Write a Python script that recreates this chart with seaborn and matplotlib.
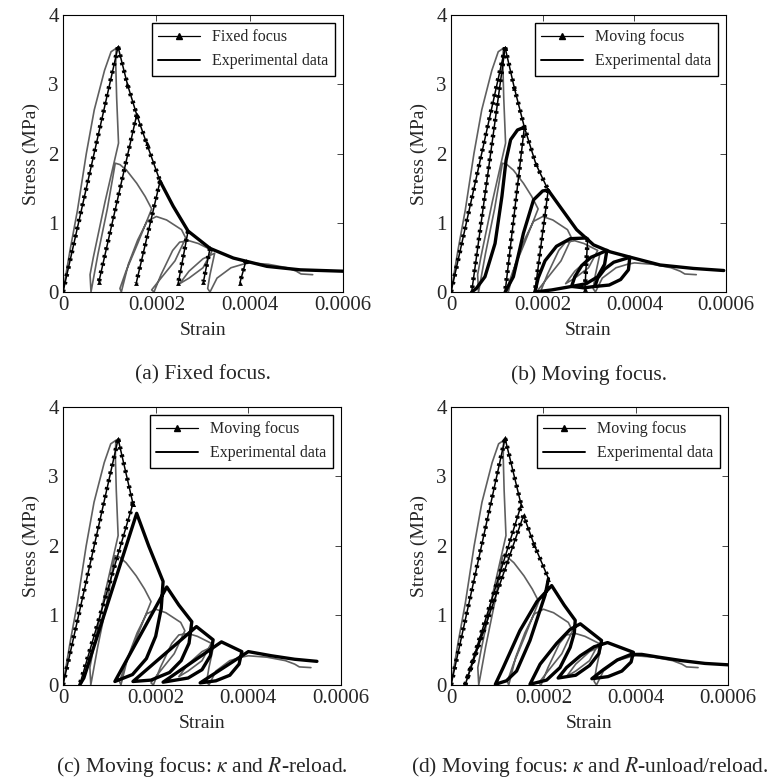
import matplotlib.pyplot as plt
from matplotlib.lines import Line2D
import seaborn as sns
import pandas as pd

sns.set_style('white')
plt.rcParams['font.family'] = ['Liberation Serif', 'DejaVu Serif']
plt.rcParams['mathtext.fontset'] = 'stix'

# strain in units of 1e-4, stress in MPa
exp_strain = [0, 0.15, 0.31, 0.5, 0.67, 0.89, 1.03, 1.14, 1.13, 1.15, 1.19, 0.9, 0.65, 0.58, 0.6,
              0.75, 0.95, 1.12, 1.22, 1.36, 1.58, 1.76, 1.9, 1.6, 1.35, 1.22, 1.25, 1.4, 1.6, 1.8,
              2.0, 2.22, 2.54, 2.63, 2.4, 2.1, 1.9, 1.95, 2.1, 2.35, 2.5, 2.7, 2.9, 3.2, 3.0, 2.7,
              2.5, 2.7, 3.0, 3.25, 3.15, 3.1, 3.15, 3.3, 3.6, 3.85, 4.0, 4.4, 4.8, 5.0, 5.1, 5.35]
exp_stress = [0, 0.6, 1.18, 2.0, 2.63, 3.2, 3.47, 3.52, 3.3, 2.8, 2.15, 1.3, 0.5, 0.25, 0.0,
              0.55, 1.2, 1.86, 1.84, 1.76, 1.57, 1.38, 1.2, 0.7, 0.3, 0.05, 0.0, 0.4, 0.75, 1.02,
              1.09, 1.04, 0.9, 0.78, 0.45, 0.2, 0.03, 0.0, 0.25, 0.6, 0.72, 0.74, 0.7, 0.6, 0.35, 0.2,
              0.12, 0.3, 0.48, 0.56, 0.25, 0.05, 0.0, 0.2, 0.35, 0.4, 0.42, 0.4, 0.35, 0.3, 0.26, 0.25]

# (a) fixed focus
a_load = [(0, 0), (1.18, 3.54)]
a_env_dot = [(1.18, 3.54), (1.38, 3.0), (1.58, 2.56), (1.79, 2.15), (2.08, 1.6)]
a_env = [(2.08, 1.6), (2.36, 1.24), (2.68, 0.88), (3.15, 0.63), (3.65, 0.49), (4.37, 0.37),
         (5.08, 0.32), (6.0, 0.30)]
a_cyc1 = [(1.58, 2.56), (0.77, 0.15)]
a_cyc2 = [(2.08, 1.6), (1.57, 0.13)]
a_cyc3 = [(2.68, 0.88), (2.47, 0.13)]
a_cyc4 = [(3.15, 0.63), (3.01, 0.15)]
a_cyc5 = [(3.92, 0.45), (3.79, 0.13)]

# (b) moving focus
b_load = [(0, 0), (1.18, 3.53)]
b_env_dot = [(1.18, 3.53), (1.38, 2.95), (1.6, 2.38), (1.85, 1.85), (2.12, 1.47)]
b_env = [(2.12, 1.47), (2.38, 1.23), (2.74, 0.9), (3.11, 0.68), (3.47, 0.58), (3.98, 0.49),
         (4.56, 0.39), (5.29, 0.34), (5.95, 0.31)]
b_unl1 = [(1.18, 3.53), (0.45, 0.0)]
b_unl2 = [(1.6, 2.38), (1.18, 0.0)]
b_unl3 = [(2.12, 1.47), (1.83, 0.0)]
b_unl4 = [(2.98, 0.76), (2.92, 0.04)]
b_rel1 = [(0.45, 0), (0.55, 0.05), (0.74, 0.22), (0.96, 0.7), (1.11, 1.38), (1.2, 1.9),
          (1.3, 2.2), (1.45, 2.34), (1.6, 2.38)]
b_rel2 = [(1.18, 0), (1.36, 0.22), (1.58, 0.85), (1.8, 1.33), (2.0, 1.46), (2.12, 1.47)]
b_rel3 = [(1.83, 0), (1.9, 0.2), (2.05, 0.45), (2.3, 0.66), (2.6, 0.77), (2.95, 0.78)]
b_base = [(1.83, 0), (2.2, 0.03), (2.63, 0.08), (2.9, 0.06), (3.14, 0.08)]
b_rel4 = [(2.63, 0.08), (2.7, 0.22), (2.85, 0.38), (3.05, 0.5), (3.4, 0.6)]
b_low4 = [(2.63, 0.08), (2.95, 0.12), (3.2, 0.22), (3.35, 0.4), (3.4, 0.6)]
b_rel5 = [(3.14, 0.08), (3.2, 0.2), (3.35, 0.33), (3.55, 0.43), (3.9, 0.5)]
b_low5 = [(3.14, 0.08), (3.45, 0.1), (3.7, 0.18), (3.87, 0.32), (3.9, 0.5)]

# (c) moving focus: kappa and R-reload
c_load = [(0, 0), (1.19, 3.54)]
c_env_dot = [(1.19, 3.54), (1.51, 2.61)]
c_unl1 = [(1.51, 2.61), (0.36, 0.0)]
c_path = [(0.36, 0.0), (0.45, 0.1), (1.59, 2.47), (1.85, 2.0), (2.16, 1.49),
          (2.12, 1.1), (2.0, 0.7), (1.8, 0.38), (1.5, 0.15), (1.12, 0.05),
          (2.24, 1.41), (2.5, 1.15), (2.78, 0.91),
          (2.72, 0.6), (2.55, 0.35), (2.3, 0.18), (1.9, 0.07), (1.51, 0.05),
          (2.88, 0.84), (3.24, 0.65),
          (3.18, 0.42), (3.0, 0.22), (2.7, 0.1), (2.16, 0.04),
          (3.42, 0.62), (3.86, 0.48),
          (3.8, 0.3), (3.6, 0.14), (3.3, 0.06), (2.96, 0.03),
          (4.0, 0.48), (4.5, 0.42), (5.0, 0.37), (5.48, 0.34)]

# (d) moving focus: kappa and R-unload/reload
d_load = [(0, 0), (1.17, 3.55)]
d_env_dot = [(1.17, 3.55), (1.52, 2.59), (0.31, 0.01), (1.57, 2.44), (1.8, 2.02), (2.11, 1.53)]
d_path = [(2.11, 1.53), (2.04, 1.3), (1.89, 1.0), (1.71, 0.64), (1.42, 0.2), (1.2, 0.06), (0.96, 0.01),
          (1.13, 0.25), (1.49, 0.78), (1.86, 1.2), (2.18, 1.43), (2.45, 1.15), (2.69, 0.93),
          (2.67, 0.75), (2.58, 0.54), (2.36, 0.25), (2.07, 0.07), (1.71, 0.01),
          (1.93, 0.3), (2.29, 0.6), (2.58, 0.8), (2.8, 0.88), (3.26, 0.64),
          (3.2, 0.45), (3.0, 0.28), (2.7, 0.14), (2.32, 0.1),
          (2.5, 0.25), (2.8, 0.42), (3.1, 0.55), (3.39, 0.61), (3.95, 0.47),
          (3.9, 0.33), (3.7, 0.2), (3.4, 0.12), (3.05, 0.09),
          (3.3, 0.22), (3.6, 0.36), (3.9, 0.44), (4.13, 0.44), (4.5, 0.4), (5.0, 0.35),
          (5.5, 0.31), (6.0, 0.29)]

panels = [
    ([0.0817, 0.6271, 0.3632, 0.3537], 'Fixed focus', '(a) Fixed focus.', 0.521,
     [a_load, a_env_dot, a_cyc1, a_cyc2, a_cyc3, a_cyc4, a_cyc5], [a_env]),
    ([0.585, 0.6271, 0.3567, 0.3537], 'Moving focus', '(b) Moving focus.', 0.521,
     [b_load, b_env_dot, b_unl1, b_unl2, b_unl3, b_unl4],
     [b_env, b_rel1, b_rel2, b_rel3, b_base, b_rel4, b_low4, b_rel5, b_low5]),
    ([0.0817, 0.1252, 0.3606, 0.355], 'Moving focus', r'(c) Moving focus: $\kappa$ and $R$-reload.', 0.021,
     [c_load, c_env_dot, c_unl1], [c_path]),
    ([0.585, 0.1252, 0.3593, 0.355], 'Moving focus', r'(d) Moving focus: $\kappa$ and $R$-unload/reload.', 0.021,
     [d_load, d_env_dot], [d_path]),
]


def to_frame(segments):
    rows = []
    for i, seg in enumerate(segments):
        for strain, stress in seg:
            rows.append((strain * 1e-4, stress, i))
    return pd.DataFrame(rows, columns=['strain', 'stress', 'seg'])


fig = plt.figure(figsize=(7.71, 7.83), dpi=100)

for rect, label, caption, cap_y, dotted, solid in panels:
    ax = fig.add_axes(rect)
    exp_df = pd.DataFrame({'strain': [s * 1e-4 for s in exp_strain], 'stress': exp_stress})
    sns.lineplot(data=exp_df, x='strain', y='stress', sort=False, estimator=None,
                 color='#5f5f5f', lw=1.2, ax=ax)

    dot_df = to_frame(dotted)
    sns.lineplot(data=dot_df, x='strain', y='stress', units='seg', estimator=None, sort=False,
                 color='black', lw=1.1, marker='^', markersize=3.5, markeredgewidth=0, ax=ax)
    sns.lineplot(data=dot_df, x='strain', y='stress', units='seg', estimator=None, sort=False,
                 color='black', lw=3.2, linestyle=(0, (0.6, 1.2)), ax=ax)

    solid_df = to_frame(solid)
    sns.lineplot(data=solid_df, x='strain', y='stress', units='seg', estimator=None, sort=False,
                 color='black', lw=2.4, ax=ax)

    ax.set_xlim(0, 6e-4)
    ax.set_ylim(0, 4)
    ax.set_xticks([0, 2e-4, 4e-4, 6e-4])
    ax.set_xticklabels(['0', '0.0002', '0.0004', '0.0006'])
    ax.set_yticks([0, 1, 2, 3, 4])
    ax.tick_params(direction='in', top=True, right=True, length=4, width=0.6,
                   labelsize=15, pad=3)
    for sp in ax.spines.values():
        sp.set_color('black')
        sp.set_linewidth(0.8)
    ax.set_xlabel('Strain', fontsize=14, labelpad=5)
    ax.set_ylabel('Stress (MPa)', fontsize=14, labelpad=6)

    handles = [Line2D([0], [0], color='black', lw=0.9, marker='^', markersize=4),
               Line2D([0], [0], color='black', lw=1.4)]
    ax.legend(handles, [label, 'Experimental data'], loc='upper right', fontsize=11.5,
              frameon=True, fancybox=False, edgecolor='black', framealpha=1,
              handlelength=2.6, borderaxespad=0.5, numpoints=1)

    fig.text(rect[0] + rect[2] / 2, cap_y, caption, ha='center', va='center', fontsize=15.5)

plt.savefig('out.png', dpi=100)
